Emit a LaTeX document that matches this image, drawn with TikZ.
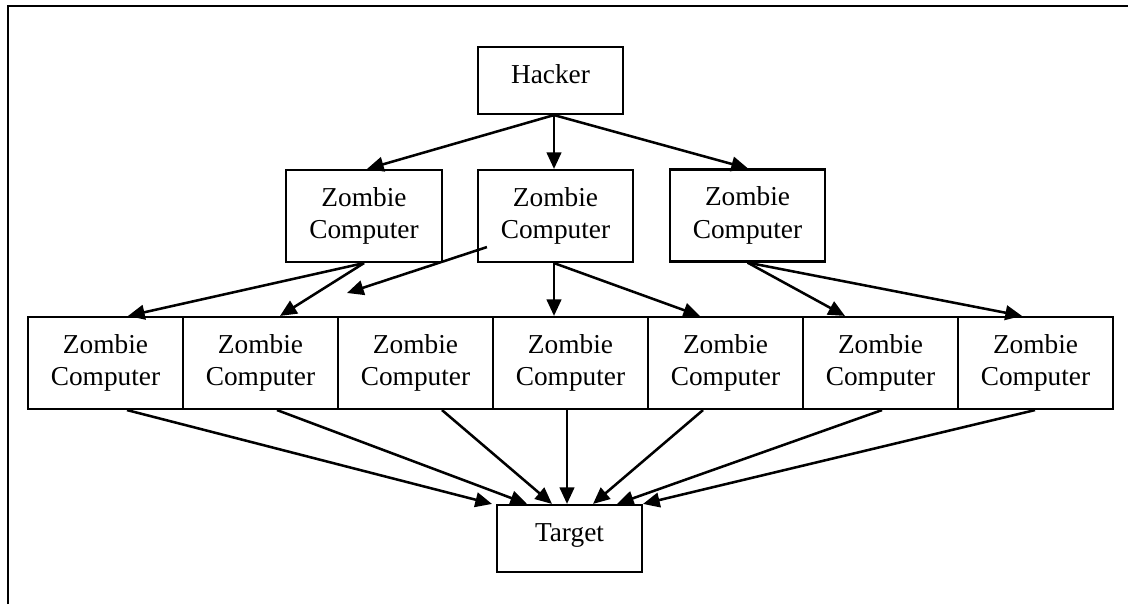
\documentclass[tikz,border=0pt]{standalone}
\usepackage{fontspec}
\setmainfont{Liberation Serif}
\usetikzlibrary{arrows.meta,calc}
\begin{document}
\begin{tikzpicture}[x=0.75pt,y=-0.75pt,
  box/.style={draw,line width=1.6pt,fill=white,align=center,font=\fontsize{20.5}{24.5}\selectfont,inner sep=0pt},
  zbox/.style={box,minimum width=116.25pt,minimum height=69pt},
  sbox/.style={box,minimum width=108.75pt,minimum height=50.25pt,text height=14pt,text depth=9.5pt},
  arr/.style={line width=1.9pt,-{Triangle[length=12.5pt,width=11pt]}},
  frame/.style={line width=2pt}]
\useasboundingbox (0,0) rectangle (1128,604);
\draw[frame] (8,604) -- (8,6) -- (1128,6);
% top
\node[sbox] (h) at (550.5,80.5) {Hacker};
% middle row
\node[zbox,minimum width=117pt] (m1) at (364,216) {Zombie\\Computer};
\node[zbox] (m2) at (555.5,216) {Zombie\\Computer};
\node[zbox] (m3) at (747.5,215.5) {Zombie\\Computer};
% bottom row
\foreach \i in {1,...,7}{
  \node[zbox] (b\i) at ({105.5+155*(\i-1)},363) {Zombie\\Computer};
}
% target
\node[sbox] (t) at (569.5,538.5) {Target};
% hacker arrows
\coordinate (hs) at ($(h.south)+(3.5,0)$);
\draw[arr] (hs) -- ($(m1.north)+(3,0)$);
\draw[arr] (hs) -- ($(m2.north)+(-1.5,0)$);
\draw[arr] (hs) -- ($(m3.north)+(0.5,0)$);
% middle to bottom
\draw[arr] (m1.south) -- ($(b1.north)+(22.5,0)$);
\draw[arr] (m1.south) -- ($(b2.north)+(19.5,0)$);
\coordinate (fs) at ($(m2.south west)+(10,-16)$);
\coordinate (fe) at (347,293);
\draw[arr] (fs) -- (fe);
\coordinate (m2s) at ($(m2.south)+(-1.5,0)$);
\draw[arr] (m2s) -- ($(b4.north)+(-16.5,0)$);
\draw[arr] (m2s) -- ($(b5.north)+(-25.5,0)$);
\draw[arr] (m3.south) -- ($(b6.north)+(-35.5,0)$);
\draw[arr] (m3.south) -- ($(b7.north)+(-13.5,0)$);
% bottom to target
\draw[arr] ($(b1.south)+(21.5,0)$) -- ($(t.north)+(-77.5,0)$);
\draw[arr] ($(b2.south)+(16.5,0)$) -- ($(t.north)+(-42.5,0)$);
\draw[arr] ($(b3.south)+(26.5,0)$) -- ($(t.north)+(-17.5,0)$);
\draw[arr] ($(b4.south)+(-3.5,0)$) -- ($(t.north)+(-2.5,0)$);
\draw[arr] ($(b5.south)+(-22.5,0)$) -- ($(t.north)+(23.5,0)$);
\draw[arr] ($(b6.south)+(1.5,0)$) -- ($(t.north)+(47.5,0)$);
\draw[arr] ($(b7.south)+(-0.5,0)$) -- ($(t.north)+(73.5,0)$);
\end{tikzpicture}
\end{document}
